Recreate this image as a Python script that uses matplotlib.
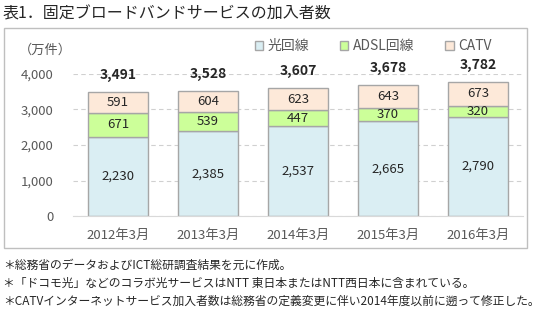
import matplotlib.pyplot as plt
from matplotlib.patches import Rectangle

plt.rcParams['font.family'] = ['Noto Sans CJK JP', 'DejaVu Sans']

# data
years = ['2012年3月', '2013年3月', '2014年3月', '2015年3月', '2016年3月']
hikari = [2230, 2385, 2537, 2665, 2790]
adsl = [671, 539, 447, 370, 320]
catv = [591, 604, 623, 643, 673]
totals = [3491, 3528, 3607, 3678, 3782]

series_names = ['光回線', 'ADSL回線', 'CATV']
colors = ['#DAEEF3', '#CCFF99', '#FDE9D9']
notes = [
    '＊総務省のデータおよびICT総研調査結果を元に作成。',
    '＊「ドコモ光」などのコラボ光サービスはNTT 東日本またはNTT西日本に含まれている。',
    '＊CATVインターネットサービス加入者数は総務省の定義変更に伴い2014年度以前に遡って修正した。',
]

W, H = 555, 322
fig = plt.figure(figsize=(W / 100, H / 100), dpi=100)
ax = fig.add_axes([73 / W, (H - 216) / H, 450 / W, 142 / H])

x = list(range(len(years)))
bottom = [0] * len(years)
for vals, name, col in zip([hikari, adsl, catv], series_names, colors):
    bars = ax.bar(x, vals, width=0.665, bottom=bottom, color=col, edgecolor='#A6A6A6',
                  linewidth=1, label=name, zorder=3)
    for b, v in zip(bars, vals):
        ax.text(b.get_x() + b.get_width() / 2, b.get_y() + b.get_height() / 2, f'{v:,}',
                ha='center', va='center', fontsize=9.5, color='#262626', zorder=4)
    bottom = [a + b for a, b in zip(bottom, vals)]

for xi, t in zip(x, totals):
    ax.text(xi, t + 280, f'{t:,}', ha='center', va='bottom', fontsize=10,
            fontweight='bold', color='#262626')

ax.set_xlim(-0.5, 4.5)
ax.set_ylim(0, 4000)
ax.set_yticks([0, 1000, 2000, 3000, 4000])
ax.set_yticklabels([f'{v:,}' for v in [0, 1000, 2000, 3000, 4000]])
ax.set_xticks(x)
ax.set_xticklabels(years)
ax.tick_params(axis='both', length=0, labelsize=9.5, labelcolor='#595959')
ax.tick_params(axis='y', pad=14)
ax.tick_params(axis='x', pad=9)
ax.grid(axis='y', color='#D0D0D0', linestyle=(0, (4, 3)), linewidth=0.8, zorder=0)
for s in ['top', 'right', 'left']:
    ax.spines[s].set_visible(False)
ax.spines['bottom'].set_color('#D9D9D9')
ax.spines['bottom'].set_zorder(5)

# chart frame
fig.patches.append(Rectangle((3.5 / W, (H - 248) / H), 523.5 / W, 220 / H,
                             transform=fig.transFigure, fill=False,
                             edgecolor='#BFBFBF', linewidth=1))

fig.text(3 / W, 1 - 14 / H, '表1．固定ブロードバンドサービスの加入者数', fontsize=11.5,
         va='center', ha='left', color='#262626')
fig.text(45 / W, 1 - 50 / H, '（万件）', fontsize=9.5, va='center', ha='center',
         color='#595959')

ax.legend(loc='lower left', bbox_to_anchor=(176 / 450, 1.0 + 15 / 142), ncol=3,
          frameon=False, fontsize=10, handlelength=0.6, handleheight=0.6,
          handletextpad=0.35, columnspacing=2.2, borderaxespad=0, labelcolor='#595959')

for i, n in enumerate(notes):
    fig.text(3 / W, 1 - (265 + i * 18) / H, n, fontsize=8.5, va='center', ha='left',
             color='#262626')

fig.savefig('out.png', dpi=100)
